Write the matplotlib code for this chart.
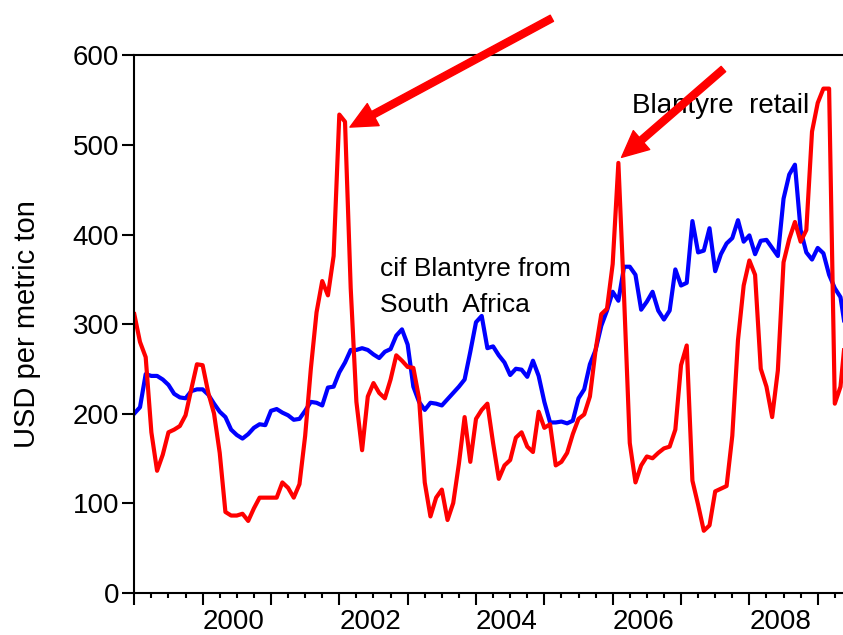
import numpy as np
import matplotlib
matplotlib.use("Agg")
from matplotlib import pyplot as plt
from matplotlib.ticker import MultipleLocator

plt.rcParams['font.family'] = ['Liberation Sans', 'DejaVu Sans']

# monthly observations, Jan 1999 onward
start_year = 1999
retail = [311, 280, 263, 179, 136, 154, 179, 182, 186, 198, 227, 255,
          254, 223, 200, 156, 90, 86, 86, 88, 80, 94, 106, 106,
          106, 106, 123, 117, 106, 121, 175, 250, 313, 348, 332, 376,
          534, 526, 340, 213, 159, 219, 234, 223, 217, 238, 265, 259,
          252, 251, 217, 123, 85, 106, 115, 81, 100, 144, 196, 146,
          194, 204, 211, 167, 127, 142, 148, 173, 179, 163, 157, 202,
          184, 188, 142, 146, 156, 177, 194, 199, 219, 271, 311, 317,
          367, 480, 330, 167, 123, 142, 152, 150, 156, 161, 163, 182,
          254, 276, 125, 98, 69, 75, 113, 116, 119, 175, 282, 343,
          371, 355, 250, 230, 196, 248, 369, 395, 414, 392, 405, 515,
          547, 563, 563, 211, 230, 296]
cif = [200, 207, 244, 242, 242, 238, 232, 222, 218, 217, 225, 227,
       227, 221, 211, 202, 196, 182, 176, 172, 177, 184, 188, 187,
       203, 205, 201, 198, 193, 194, 203, 213, 212, 209, 229, 230,
       246, 257, 271, 271, 273, 271, 266, 262, 269, 272, 287, 294,
       277, 230, 213, 204, 212, 211, 209, 216, 223, 230, 238, 269,
       302, 309, 273, 275, 265, 257, 243, 250, 249, 241, 259, 242,
       213, 190, 190, 191, 189, 192, 217, 227, 255, 271, 298, 315,
       336, 326, 364, 364, 355, 316, 325, 336, 315, 305, 315, 361,
       343, 346, 415, 380, 382, 407, 359, 378, 390, 396, 416, 392,
       399, 378, 393, 394, 385, 376, 440, 467, 478, 405, 380, 372,
       385, 379, 355, 340, 330, 288]
year_labels = [2000, 2002, 2004, 2006, 2008]

t_retail = start_year + np.arange(len(retail)) / 12
t_cif = start_year + np.arange(len(cif)) / 12

fig = plt.figure(figsize=(8.43, 6.35), dpi=100)
ax = fig.add_axes([0.1593, 0.0669, 0.8407, 0.8457])

ax.plot(t_cif, cif, color='#0000ff', lw=3)
ax.plot(t_retail, retail, color='#ff0000', lw=3)

ax.set_xlim(1999.0, 2009.37)
ax.set_ylim(0, 600)

## axes cosmetics (EViews look)
for side in ['left', 'bottom', 'top']:
    ax.spines[side].set_linewidth(1.5)
ax.spines['right'].set_visible(False)

ax.yaxis.set_major_locator(MultipleLocator(100))
ax.xaxis.set_major_locator(MultipleLocator(1))
ax.xaxis.set_minor_locator(MultipleLocator(0.25))
ax.tick_params(axis='y', direction='out', length=9, width=1.5, labelsize=20, pad=2)
ax.tick_params(axis='x', which='major', direction='out', length=8.5, width=1.5, labelbottom=False)
ax.tick_params(axis='x', which='minor', direction='out', length=3.7, width=1.5)

# year labels sit between the year ticks, every other year
for yr in year_labels:
    ax.text(yr + 0.45, -0.0675, str(yr), transform=ax.get_xaxis_transform(),
            ha='center', va='baseline', fontsize=20)

ax.set_ylabel("USD per metric ton", fontsize=21)
ax.yaxis.set_label_coords(-0.131, 0.5)

## annotations
ax.text(2006.28, 535.7, "Blantyre  retail", fontsize=20, va='baseline')
ax.text(2002.6, 353.6, "cif Blantyre from", fontsize=19, va='baseline')
ax.text(2002.6, 313.4, "South  Africa", fontsize=19, va='baseline')

arrow = dict(facecolor='#ff0000', edgecolor='#ff0000', width=5, headwidth=18,
             headlength=19, shrink=0)
ax.annotate("", xy=(2002.156, 520), xytext=(2005.11, 641.6),
            arrowprops=arrow, annotation_clip=False)
ax.annotate("", xy=(2006.13, 486.2), xytext=(2007.62, 584.9),
            arrowprops=arrow, annotation_clip=False)

plt.savefig("out.png", dpi=100)
